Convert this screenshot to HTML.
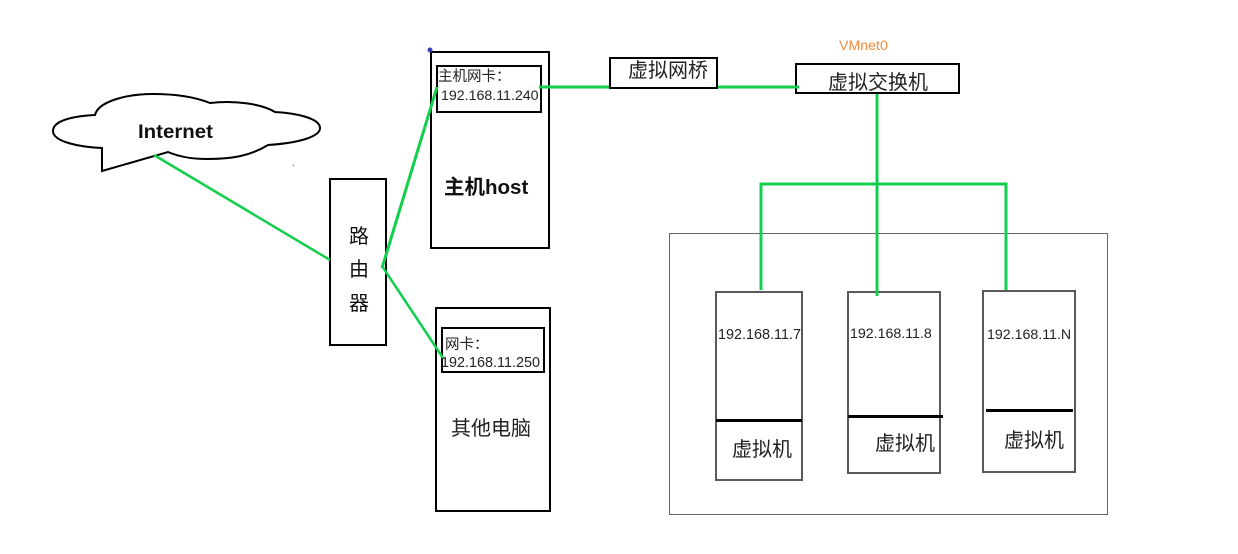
<!DOCTYPE html>
<html><head><meta charset="utf-8">
<style>
html,body{margin:0;padding:0;background:#fff;width:1238px;height:554px;overflow:hidden}
svg{display:block}
text{font-family:"Liberation Sans","Noto Sans CJK SC",sans-serif;fill:#222}
</style></head>
<body>
<svg width="1238" height="554" viewBox="0 0 1238 554" xmlns="http://www.w3.org/2000/svg">
<rect width="1238" height="554" fill="#fff"/>
<!-- cloud -->
<path d="M102 148 L102 171 L168 152 C182 158 195 159 207 159 C232 159 250 156 268 145 C298 143 320 137 320 128 C320 118 295 113 275 112 C262 104 235 100 210 103 C195 97 175 94 153 94 C125 94 98 102 95 115 C75 116 53 120 53 131 C53 142 80 147 102 148 Z" fill="#fff" stroke="#000" stroke-width="2"/>
<text x="138" y="138" font-size="19" font-weight="700" style="fill:#111" textLength="75" lengthAdjust="spacingAndGlyphs">Internet</text>
<rect x="293" y="165" width="1" height="1" fill="#555"/>
<!-- router -->
<rect x="330" y="179" width="56" height="166" fill="#fff" stroke="#000" stroke-width="2"/>
<text x="359" y="243" font-size="20" text-anchor="middle" style="fill:#111">路</text>
<text x="359" y="276" font-size="20" text-anchor="middle" style="fill:#111">由</text>
<text x="359" y="310" font-size="20" text-anchor="middle" style="fill:#111">器</text>
<!-- host -->
<rect x="431" y="52" width="118" height="196" fill="#fff" stroke="#000" stroke-width="2"/>
<circle cx="430" cy="50" r="2.500" fill="#3a3fb5"/>
<rect x="437" y="66" width="104" height="46" fill="#fff" stroke="#000" stroke-width="2"/>
<text x="438" y="81" font-size="14.500">主机网卡：</text>
<text x="441" y="100" font-size="14.200">192.168.11.240</text>
<text x="444" y="194" font-size="20.500" font-weight="700" style="fill:#111">主机host</text>
<!-- other pc -->
<rect x="436" y="308" width="114" height="203" fill="#fff" stroke="#000" stroke-width="2"/>
<rect x="442" y="328" width="102" height="44" fill="#fff" stroke="#000" stroke-width="2"/>
<text x="445" y="349" font-size="14.500">网卡：</text>
<text x="441" y="367" font-size="14.400">192.168.11.250</text>
<text x="451" y="435" font-size="20">其他电脑</text>
<!-- container -->
<rect x="669.500" y="233.500" width="438" height="281" fill="#fff" stroke="#666" stroke-width="1"/>
<!-- VMs -->
<rect x="716" y="292" width="86" height="188" fill="#fff" stroke="#595959" stroke-width="2"/>
<text x="718" y="339" font-size="14.400">192.168.11.7</text>
<rect x="716" y="419" width="86" height="3" fill="#000"/>
<text x="732" y="456" font-size="20">虚拟机</text>
<rect x="848" y="292" width="92" height="181" fill="#fff" stroke="#595959" stroke-width="2"/>
<text x="850" y="338" font-size="14.200">192.168.11.8</text>
<rect x="848" y="415" width="95" height="3" fill="#000"/>
<text x="875" y="450" font-size="20">虚拟机</text>
<rect x="983" y="291" width="92" height="181" fill="#fff" stroke="#595959" stroke-width="2"/>
<text x="987" y="339" font-size="14.200">192.168.11.N</text>
<rect x="986" y="409" width="87" height="3" fill="#000"/>
<text x="1004" y="447" font-size="20">虚拟机</text>
<!-- bridge -->
<rect x="610" y="58" width="107" height="30" fill="#fff" stroke="#000" stroke-width="2"/>
<text x="628" y="77" font-size="20">虚拟网桥</text>
<!-- switch box -->
<text x="839" y="50" font-size="14.200" style="fill:#f58a3c">VMnet0</text>
<rect x="796" y="64" width="163" height="29" fill="#fff" stroke="#000" stroke-width="2"/>
<text x="828" y="89" font-size="20">虚拟交换机</text>
<!-- green connectors -->
<g stroke="#12cf4c" fill="none" stroke-linecap="butt">
<line x1="154" y1="155" x2="330" y2="260" stroke-width="2.500"/>
<line x1="382" y1="268" x2="437" y2="87" stroke-width="3"/>
<line x1="382" y1="266" x2="443" y2="358" stroke-width="2.500"/>
<line x1="539" y1="87" x2="609" y2="87" stroke-width="3"/>
<line x1="718" y1="87" x2="799" y2="87" stroke-width="3"/>
<line x1="877" y1="94" x2="877" y2="296" stroke-width="3"/>
<polyline points="761,290 761,184 1006,184 1006,290" stroke-width="3"/>
</g>
</svg>
</body></html>
